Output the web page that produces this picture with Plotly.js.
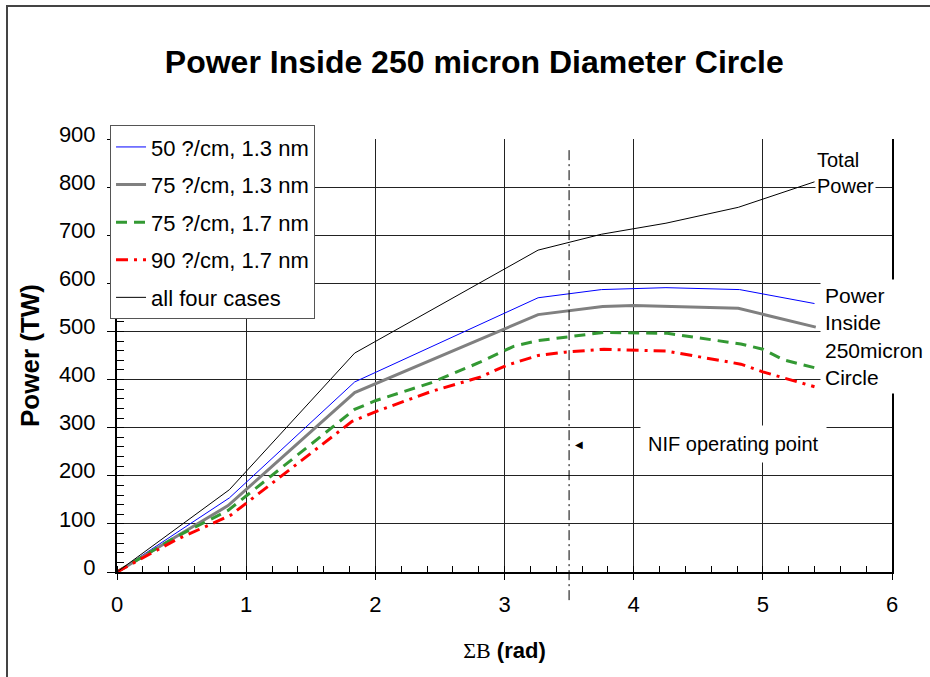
<!DOCTYPE html>
<html>
<head>
<meta charset="utf-8">
<script src="https://cdn.plot.ly/plotly-3.0.1.min.js"></script>
<style>
  html, body { margin:0; padding:0; overflow:hidden; background:#fff; }
  #wrap { position:relative; width:930px; height:677px; }
  #chart { width:930px; height:677px; }
  #frame { position:absolute; left:6px; top:5px; width:950px; height:700px; border:2px solid #444; pointer-events:none; box-sizing:border-box; }
</style>
</head>
<body>
<div id="wrap"><div id="chart"></div><div id="frame"></div></div>
<script>
// B-integral (rad) values and power (TW) for each case
const xTotal  = [0, 0.87, 1.84, 3.26, 3.75, 4.25, 4.81, 5.40];
const yTotal  = [0, 171, 455, 669, 702, 725, 758, 811];

const x50_13  = [0, 0.87, 1.84, 3.26, 3.75, 4.25, 4.82, 5.40];
const y50_13  = [0, 154, 395, 570, 587, 591, 587, 558];

const x75_13  = [0, 0.86, 1.84, 3.26, 3.76, 4.00, 4.81, 5.41];
const y75_13  = [0, 138, 373, 535, 552, 554, 548, 509];

const x75_17  = [0, 0.45, 0.86, 1.84, 2.00, 2.43, 2.81, 3.07, 3.26, 3.47, 3.77, 4.26, 4.83, 5.00, 5.16, 5.41];
const y75_17  = [0, 72, 128, 338, 356, 393, 436, 469, 481, 488, 498, 496, 474, 463, 441, 424];

const x90_17  = [0, 0.45, 0.88, 1.82, 2.00, 2.43, 2.81, 3.02, 3.26, 3.47, 3.77, 4.26, 4.83, 5.00, 5.40];
const y90_17  = [0, 66, 118, 313, 333, 375, 405, 430, 450, 457, 463, 459, 432, 416, 385];

const seriesNames = ["50 ?/cm, 1.3 nm", "75 ?/cm, 1.3 nm", "75 ?/cm, 1.7 nm", "90 ?/cm, 1.7 nm", "all four cases"];
const xTickVals = [0, 1, 2, 3, 4, 5, 6];
const yTickVals = [0, 100, 200, 300, 400, 500, 600, 700, 800, 900];
const nifPoint = 3.5;

const FONT = "Liberation Sans, Arial, sans-serif";

const traces = [
  {x: x50_13, y: y50_13, name: seriesNames[0], legendgroup: "a", mode: "lines",
   line: {color: "#0000ff", width: 1}},
  {x: x75_13, y: y75_13, name: seriesNames[1], legendgroup: "b", mode: "lines",
   line: {color: "#808080", width: 3}},
  {x: x75_17, y: y75_17, name: seriesNames[2], legendgroup: "c", mode: "lines",
   line: {color: "#339933", width: 3, dash: "11px,7px"}},
  {x: x90_17, y: y90_17, name: seriesNames[3], legendgroup: "d", mode: "lines",
   line: {color: "#ff0000", width: 3, dash: "12px,6px,3px,6px"}},
  {x: xTotal, y: yTotal, name: seriesNames[4], legendgroup: "e", mode: "lines",
   line: {color: "#000000", width: 1}}
];

const layout = {
  width: 930, height: 677,
  margin: {l: 117, r: 38, t: 139, b: 105},
  paper_bgcolor: "#ffffff", plot_bgcolor: "#ffffff",
  font: {family: FONT, color: "#000", size: 20},
  title: {text: "<b>Power Inside 250 micron Diameter Circle</b>",
          font: {family: FONT, size: 32, color: "#000"},
          xref: "container", x: 0.51, xanchor: "center", yref: "container", y: 0.908, yanchor: "middle"},
  xaxis: {range: [0, 6], tickvals: xTickVals, ticks: "outside", ticklen: 6, tickcolor: "#000",
          showline: true, linecolor: "#000", linewidth: 2,
          showgrid: true, gridcolor: "#222", gridwidth: 1, zeroline: false,
          tickfont: {family: FONT, size: 22}, ticklabelstandoff: 6,
          minor: {dtick: 0.2, ticks: "inside", ticklen: 6, tickcolor: "#000", showgrid: false},
          title: {text: "<span style=\"font-family:Liberation Serif, Times New Roman, serif\">ΣB</span> <b>(rad)</b>",
                  font: {family: FONT, size: 22}, standoff: 26},
          fixedrange: true},
  yaxis: {range: [0, 900], tickvals: yTickVals, ticks: "outside", ticklen: 8, tickcolor: "#000",
          showline: true, linecolor: "#000", linewidth: 2, mirror: true,
          showgrid: true, gridcolor: "#222", gridwidth: 1, zeroline: false,
          tickfont: {family: FONT, size: 22}, ticklabelstandoff: 7, ticklabelshift: -5,
          minor: {dtick: 20, ticks: "inside", ticklen: 7, tickcolor: "#000", showgrid: false},
          title: {text: "<b>Power (TW)</b>", font: {family: FONT, size: 26}, standoff: 12},
          fixedrange: true},
  showlegend: true,
  legend: {x: -0.009, y: 1.032, xanchor: "left", yanchor: "top",
           bgcolor: "#ffffff", bordercolor: "#555", borderwidth: 1,
           font: {family: FONT, size: 22}, tracegroupgap: 6,
           traceorder: "grouped"},
  shapes: [
    {type: "line", xref: "x", yref: "paper", x0: nifPoint, x1: nifPoint, y0: -0.065, y1: 0.975,
     line: {color: "#000", width: 1, dash: "10px,4px,2px,4px"}, layer: "above"}
  ],
  annotations: [
    {xref: "x", yref: "y", x: 5.40, y: 829, xanchor: "left", yanchor: "middle", align: "left",
     text: "Total<br>Power", showarrow: false, bgcolor: "#ffffff", borderpad: 1,
     font: {family: FONT, size: 20}},
    {xref: "x", yref: "y", x: 5.44, y: 490, xanchor: "left", yanchor: "middle", align: "left",
     text: "Power<br>Inside<br>250micron<br>Circle", showarrow: false, bgcolor: "#ffffff", borderpad: 4,
     font: {family: FONT, size: 21}},
    {xref: "x", yref: "y", x: 4.05, y: 266, xanchor: "left", yanchor: "middle", align: "left",
     text: "NIF operating point", showarrow: false, bgcolor: "#ffffff", borderpad: 7,
     font: {family: FONT, size: 20}},
    {xref: "x", yref: "y", x: 3.53, y: 266, xanchor: "left", yanchor: "middle",
     text: "◀", showarrow: false, font: {family: "DejaVu Sans", size: 10}}
  ]
};

Plotly.newPlot("chart", traces, layout, {displayModeBar: false, staticPlot: true});
</script>
</body>
</html>
